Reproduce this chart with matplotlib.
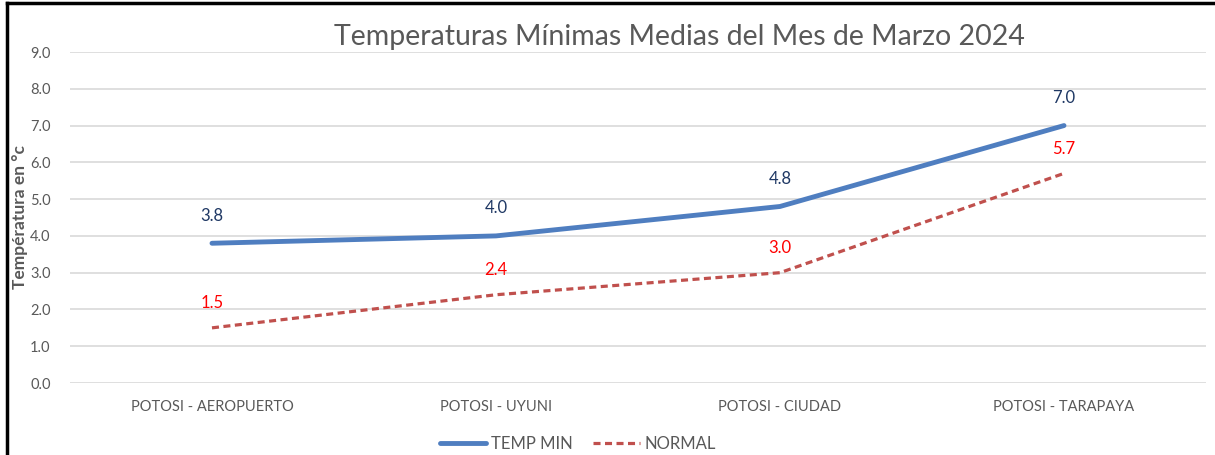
import matplotlib
matplotlib.use("Agg")
import matplotlib.pyplot as plt
from matplotlib.lines import Line2D

# Data
estaciones = ["POTOSI - AEROPUERTO", "POTOSI - UYUNI", "POTOSI - CIUDAD", "POTOSI - TARAPAYA"]
temp_min = [3.8, 4.0, 4.8, 7.0]
normal = [1.5, 2.4, 3.0, 5.7]
yticks = [0, 1, 2, 3, 4, 5, 6, 7, 8, 9]

plt.rcParams['font.family'] = ['Lato', 'DejaVu Sans']

fig = plt.figure(figsize=(12.15, 4.55), dpi=100)
ax = fig.add_axes([0.0576, 0.1582, 0.935, 0.7275])

x = range(len(estaciones))
ax.plot(x, temp_min, color="#4F7EC0", lw=3.5, solid_capstyle="round", label="TEMP MIN")
ax.plot(x, normal, color="#C0504D", lw=2.3, ls=(0, (2.2, 1.4)), label="NORMAL")

# data labels
for i, v in enumerate(temp_min):
    ax.annotate(f"{v:.1f}", (i, v), xytext=(0, 14), textcoords="offset points",
                ha="center", va="bottom", color="#1F3864", fontsize=12)
for i, v in enumerate(normal):
    ax.annotate(f"{v:.1f}", (i, v), xytext=(0, 12), textcoords="offset points",
                ha="center", va="bottom", color="#FF0000", fontsize=12)

ax.set_xlim(-0.5, len(estaciones) - 0.5)
ax.set_ylim(0, 9)
ax.set_yticks(yticks)
ax.set_yticklabels([f"{t:.1f}" for t in yticks])
ax.set_xticks(list(x))
ax.set_xticklabels(estaciones)
ax.tick_params(axis="both", length=0, colors="#595959", labelsize=10.5)
ax.tick_params(axis="x", pad=12)
ax.tick_params(axis="y", pad=14)
ax.grid(axis="y", color="#D9D9D9", lw=1.2)
ax.set_axisbelow(True)
for s in ax.spines.values():
    s.set_visible(False)

ax.set_ylabel("Températura en °c", color="#595959", fontsize=12.5, fontweight="bold")
ax.yaxis.set_label_coords(-42 / 1136, 0.5)
fig.text(0.559, 0.918, "Temperaturas Mínimas Medias del Mes de Marzo 2024",
         ha="center", va="center", fontsize=20.5, color="#595959")

ax.legend(loc="upper center", bbox_to_anchor=(0.447, -0.115), ncol=2, frameon=False,
          fontsize=12, labelcolor="#595959", handlelength=2.8, handletextpad=0.3,
          columnspacing=1.2)

# black frame on top and left edges
fig.add_artist(Line2D([0.006, 0.006], [0, 0.994], color="black", lw=2.5, transform=fig.transFigure))
fig.add_artist(Line2D([0.006, 1], [0.994, 0.994], color="black", lw=2.5, transform=fig.transFigure))

fig.savefig("out.png", dpi=100)
